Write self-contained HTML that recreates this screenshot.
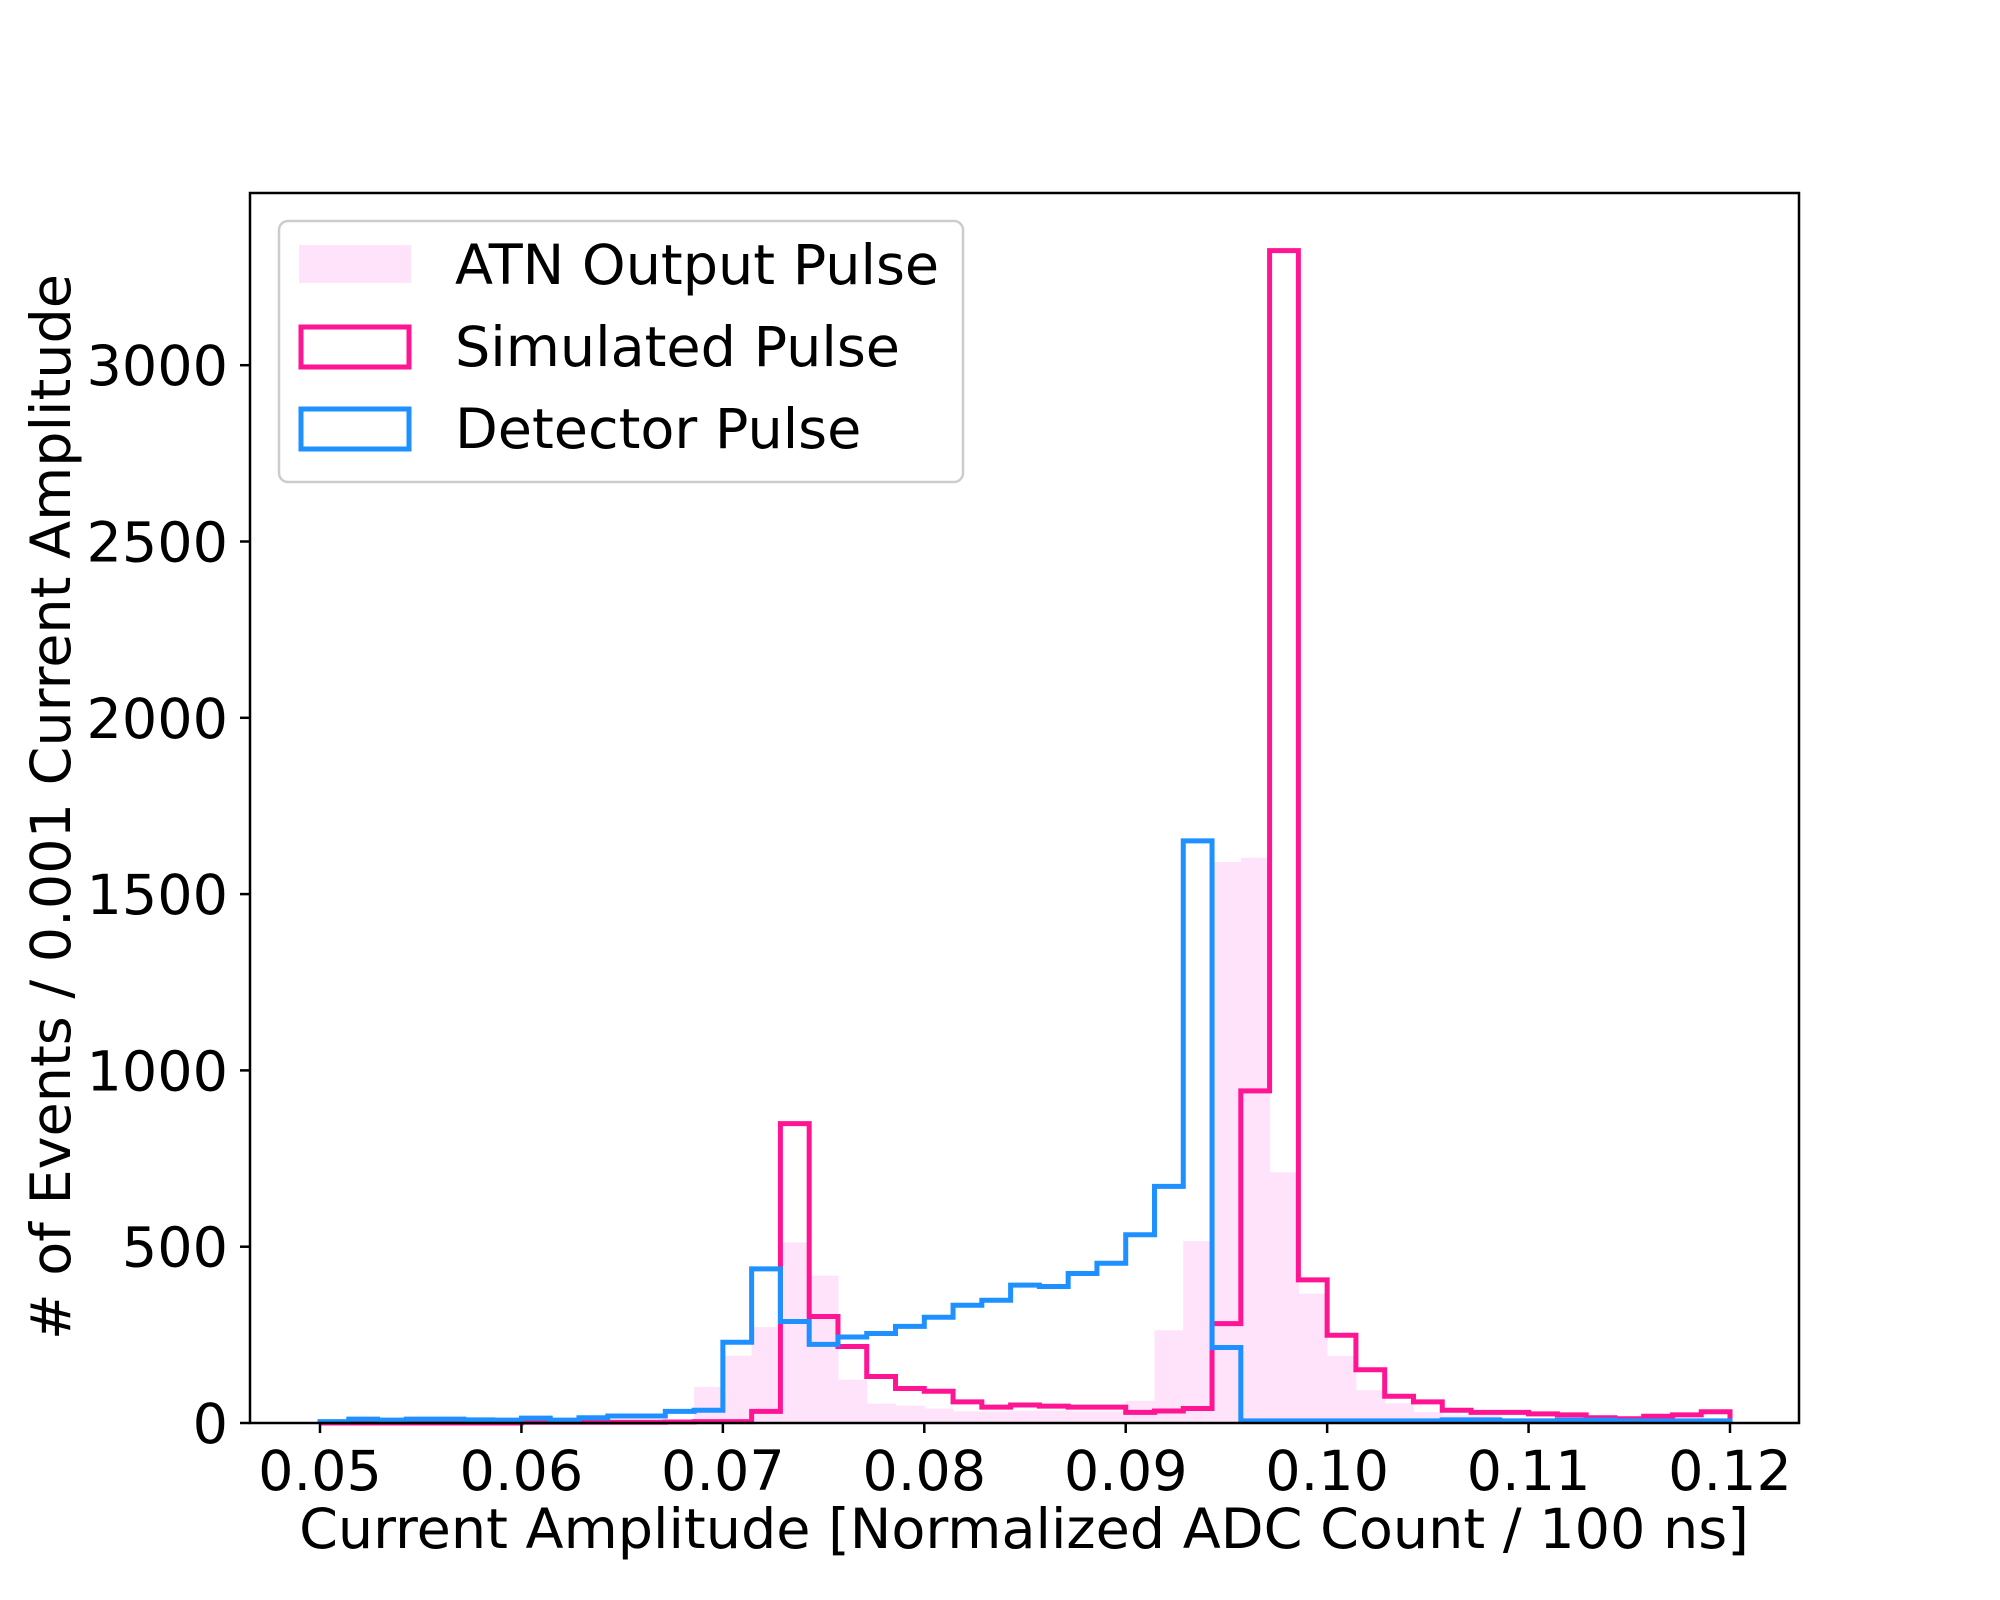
<!DOCTYPE html>
<html><head><meta charset="utf-8"><style>
html,body{margin:0;padding:0;background:#fff;}
svg{display:block;font-family:"DejaVu Sans","Liberation Sans",sans-serif;}
</style></head><body>
<svg id="chart" width="2000" height="1600" viewBox="0 0 2000 1600" xmlns="http://www.w3.org/2000/svg">
<rect x="0" y="0" width="2000" height="1600" fill="#fff"/>
<g id="plot"></g>
<rect x="250" y="193" width="1549" height="1230" fill="none" stroke="#000" stroke-width="2.5"/>
<g id="xticks"></g>
<g id="yticks"></g>
<text x="1024" y="1548" font-size="55.6" text-anchor="middle">Current Amplitude [Normalized ADC Count / 100 ns]</text>
<text transform="translate(70,807) rotate(-90)" font-size="55.6" text-anchor="middle"># of Events / 0.001 Current Amplitude</text>
<g>
<rect x="279" y="221" width="684" height="261" rx="9" fill="#fff" fill-opacity="0.8" stroke="#cccccc" stroke-width="2.5"/>
<rect x="299" y="245" width="112" height="38" fill="#fee3fa"/>
<text x="455" y="284" font-size="55.6">ATN Output Pulse</text>
<rect x="301" y="327" width="108" height="40" fill="none" stroke="#ff1493" stroke-width="5"/>
<text x="455" y="366" font-size="55.6">Simulated Pulse</text>
<rect x="301" y="409" width="108" height="40" fill="none" stroke="#1e90ff" stroke-width="5"/>
<text x="455" y="448" font-size="55.6">Detector Pulse</text>
</g>
</svg>
<script>
const xMin = 0.05, xMax = 0.12, nBins = 49;
const atnCounts = [0,0,0,0,0,0,0,0,0,0,1,2,9,102,191,272,512,418,123,55,49,41,33,33,35,35,33,33,63,263,516,1591,1603,711,367,190,93,56,31,22,22,9,12,6,8,8,8,12,8];
const simCounts = [0,0,0,0,0,0,0,2,2,2,2,2,3,4,4,33,849,302,217,132,98,90,60,45,51,48,45,45,30,34,41,282,942,3325,406,249,151,76,60,36,30,30,26,23,15,12,19,23,32];
const detCounts = [4,11,8,11,11,9,8,14,8,15,20,20,33,36,229,437,288,223,244,254,274,300,334,348,391,387,424,453,534,671,1651,214,6,6,6,6,6,6,6,9,9,6,6,8,8,6,6,6,6];
const xTickVals = [0.05,0.06,0.07,0.08,0.09,0.10,0.11,0.12];
const xTickLabels = ["0.05","0.06","0.07","0.08","0.09","0.10","0.11","0.12"];
const yTickVals = [0,500,1000,1500,2000,2500,3000];
const yTickLabels = ["0","500","1000","1500","2000","2500","3000"];

const NS = "http://www.w3.org/2000/svg";
function X(v){ return 320 + (v - xMin) * (1410 / (xMax - xMin)); }
function Y(c){ return 1423 - c * 0.3526; }
function edge(i){ return xMin + i * (xMax - xMin) / nBins; }

const plot = document.getElementById('plot');
atnCounts.forEach((c, i) => {
  if (c <= 0) return;
  const r = document.createElementNS(NS, 'rect');
  const x0 = X(edge(i)), x1 = X(edge(i + 1));
  r.setAttribute('x', x0);
  r.setAttribute('width', x1 - x0 + 0.5);
  r.setAttribute('y', Y(c));
  r.setAttribute('height', Y(0) - Y(c));
  r.setAttribute('fill', '#fee3fa');
  
  
  plot.appendChild(r);
});
function stepPath(arr){
  let d = 'M' + X(edge(0)) + ',' + Y(0);
  arr.forEach((c, i) => {
    d += ' L' + X(edge(i)) + ',' + Y(c) + ' L' + X(edge(i + 1)) + ',' + Y(c);
  });
  d += ' L' + X(edge(arr.length)) + ',' + Y(0);
  return d;
}
const simPath = document.createElementNS(NS, 'path');
simPath.setAttribute('d', stepPath(simCounts));
simPath.setAttribute('fill', 'none');
simPath.setAttribute('stroke', '#ff1493');
simPath.setAttribute('stroke-width', '5');


plot.appendChild(simPath);
const detPath = document.createElementNS(NS, 'path');
detPath.setAttribute('d', stepPath(detCounts));
detPath.setAttribute('fill', 'none');
detPath.setAttribute('stroke', '#1e90ff');
detPath.setAttribute('stroke-width', '5');


plot.appendChild(detPath);

const xg = document.getElementById('xticks');
xTickVals.forEach((v, i) => {
  const l = document.createElementNS(NS, 'line');
  l.setAttribute('x1', X(v)); l.setAttribute('x2', X(v));
  l.setAttribute('y1', 1423); l.setAttribute('y2', 1433);
  l.setAttribute('stroke', '#000'); l.setAttribute('stroke-width', '2.5');
  
  
  xg.appendChild(l);
  const t = document.createElementNS(NS, 'text');
  t.setAttribute('x', X(v)); t.setAttribute('y', 1490);
  t.setAttribute('font-size', '55.6'); t.setAttribute('text-anchor', 'middle');
  t.textContent = xTickLabels[i];
  
  
  xg.appendChild(t);
});
const yg = document.getElementById('yticks');
yTickVals.forEach((v, i) => {
  const l = document.createElementNS(NS, 'line');
  l.setAttribute('x1', 240); l.setAttribute('x2', 250);
  l.setAttribute('y1', Y(v)); l.setAttribute('y2', Y(v));
  l.setAttribute('stroke', '#000'); l.setAttribute('stroke-width', '2.5');
  
  
  yg.appendChild(l);
  const t = document.createElementNS(NS, 'text');
  t.setAttribute('x', 228); t.setAttribute('y', Y(v) + 20);
  t.setAttribute('font-size', '55.6'); t.setAttribute('text-anchor', 'end');
  t.textContent = yTickLabels[i];
  
  
  yg.appendChild(t);
});
</script>
</body></html>
